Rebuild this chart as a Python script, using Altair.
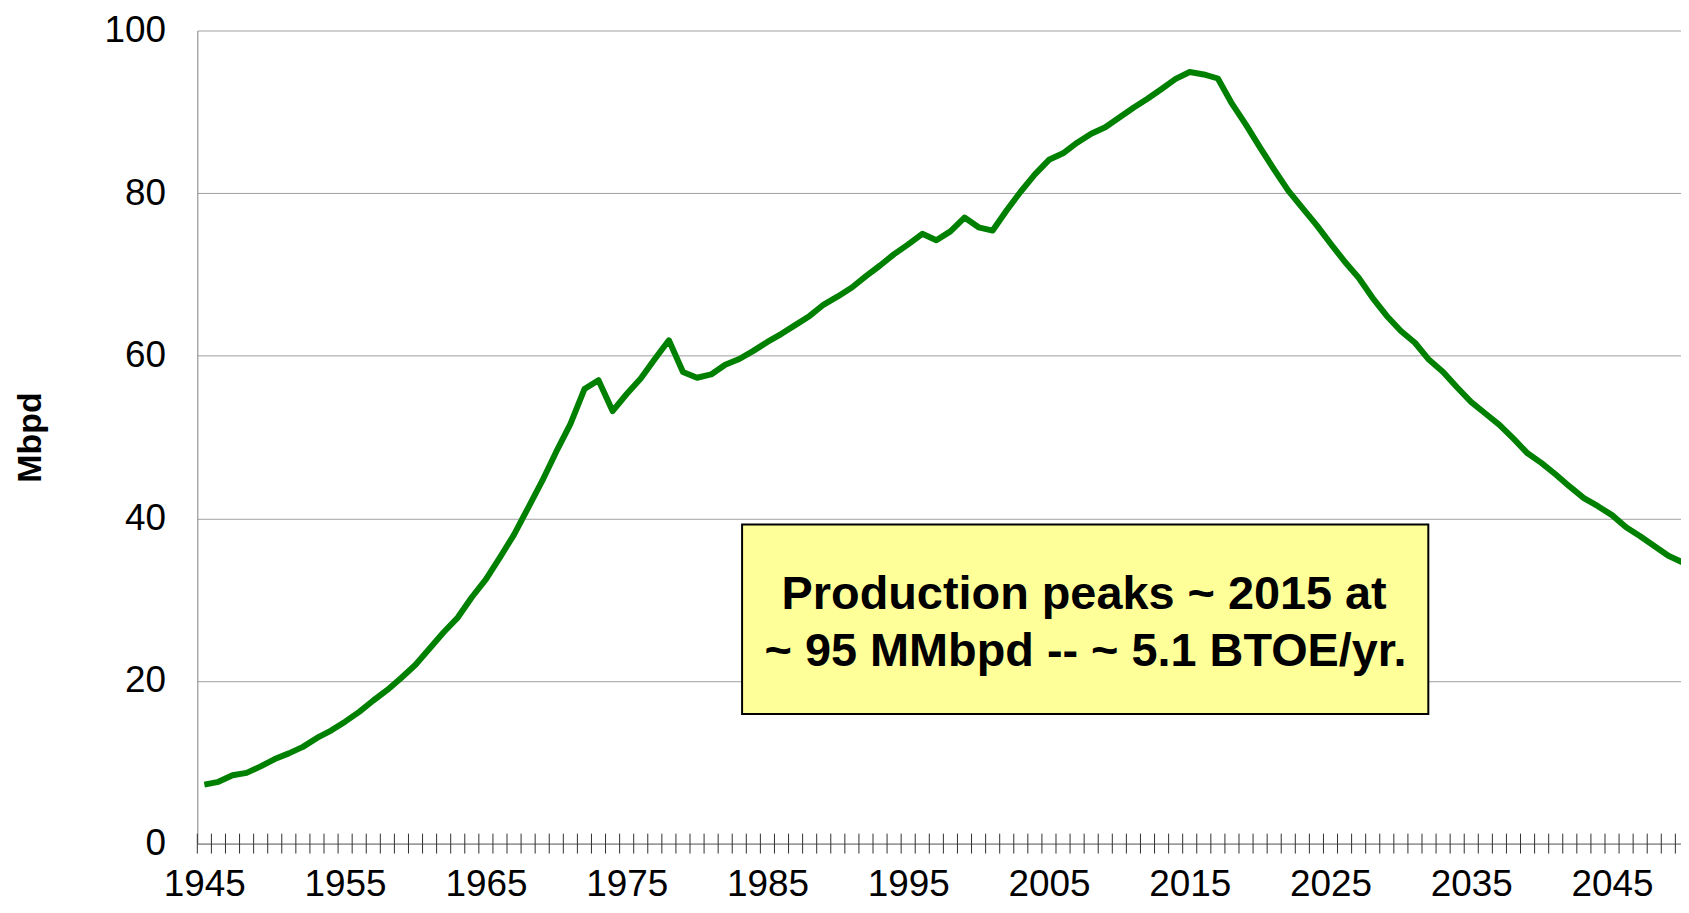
import altair as alt
import pandas as pd

years = list(range(1945, 2051))
production = [
    7.25, 7.6, 8.4, 8.7, 9.5, 10.4, 11.1, 11.9, 13.0, 13.9,
    15.0, 16.2, 17.6, 18.9, 20.4, 22.0, 24.0, 26.0, 27.8, 30.3,
    32.5, 35.2, 38.0, 41.3, 44.6, 48.2, 51.6, 55.9, 57.0, 53.2,
    55.3, 57.2, 59.6, 61.9, 58.0, 57.3, 57.7, 58.9, 59.6, 60.6,
    61.7, 62.7, 63.8, 64.9, 66.3, 67.3, 68.4, 69.8, 71.1, 72.5,
    73.7, 75.0, 74.2, 75.3, 77.0, 75.8, 75.4, 77.9, 80.2, 82.3,
    84.1, 84.9, 86.2, 87.3, 88.1, 89.3, 90.5, 91.6, 92.8, 94.05,
    94.9, 94.6, 94.1, 91.0, 88.4, 85.6, 82.9, 80.3, 78.2, 76.1,
    73.8, 71.6, 69.6, 67.1, 64.9, 63.05, 61.6, 59.5, 58.0, 56.1,
    54.3, 52.9, 51.5, 49.8, 48.0, 46.8, 45.4, 43.9, 42.5, 41.5,
    40.4, 38.9, 37.8, 36.6, 35.4, 34.6,
]
label_years = list(range(1945, 2050, 10))
y_ticks = [0, 20, 40, 60, 80, 100]
note_lines = ["Production peaks ~ 2015 at", "~ 95 MMbpd -- ~ 5.1 BTOE/yr."]

W, H = 1489, 816
FONT = "Liberation Sans"

df = pd.DataFrame({"year": years, "mbpd": production})
bounds = pd.DataFrame({"year": [y - 0.5 for y in years]})
box = pd.DataFrame({"year": [1983.2], "year2": [2031.95], "mbpd": [39.26], "mbpd2": [15.95]})
notes = pd.DataFrame({"t": note_lines, "year": [2007.5, 2007.6], "mbpd": [28.8, 21.9]})

xscale = alt.Scale(domain=[1944.5, 2049.9], nice=False, zero=False)
yscale = alt.Scale(domain=[0, 100], nice=False)

xaxis = alt.Axis(values=label_years, format="d", title="", grid=False,
                 ticks=False, labelPadding=52, labelBaseline="alphabetic",
                 labelFlush=False, labelFontSize=37, labelFont=FONT,
                 labelColor="black", domainColor="#808080", labelOverlap=False)
yaxis = alt.Axis(values=y_ticks, title="Mbpd", grid=True, gridColor="#a0a0a0",
                 ticks=False, tickSize=0, labelPadding=32, labelFontSize=37,
                 labelFont=FONT, labelColor="black", domainColor="#808080",
                 titleFont=FONT, titleFontSize=34, titleFontWeight="bold",
                 titleColor="black", titleAngle=270, titleX=-167, titleY=408,
                 titleAlign="center", titleBaseline="middle")

line = alt.Chart(df).mark_line(
    color="#008000", strokeWidth=6, strokeJoin="round", clip=True
).encode(
    x=alt.X("year:Q", scale=xscale, axis=xaxis),
    y=alt.Y("mbpd:Q", scale=yscale, axis=yaxis),
)

ticks = alt.Chart(bounds).mark_rule(color="#303030", strokeWidth=1).encode(
    x=alt.X("year:Q", scale=xscale, axis=xaxis),
    y=alt.value(H - 10),
    y2=alt.value(H + 10),
)

rect = alt.Chart(box).mark_rect(fill="#FFFF99", stroke="black", strokeWidth=2).encode(
    x=alt.X("year:Q", scale=xscale, axis=xaxis),
    x2="year2:Q",
    y=alt.Y("mbpd:Q", scale=yscale, axis=yaxis),
    y2="mbpd2:Q",
)

text = alt.Chart(notes).mark_text(
    font=FONT, fontSize=47, fontWeight="bold", color="black",
    align="center", baseline="alphabetic"
).encode(
    x=alt.X("year:Q", scale=xscale, axis=xaxis),
    y=alt.Y("mbpd:Q", scale=yscale, axis=yaxis),
    text="t:N",
)

chart = alt.layer(line, ticks, rect, text).properties(
    width=W, height=H,
    autosize=alt.AutoSizeParams(type="none"),
    padding={"left": 190, "top": 21, "right": 0, "bottom": 60},
    background="white",
).configure_view(stroke=None)

chart.save("out.html", embed_options={"renderer": "svg", "actions": False})
